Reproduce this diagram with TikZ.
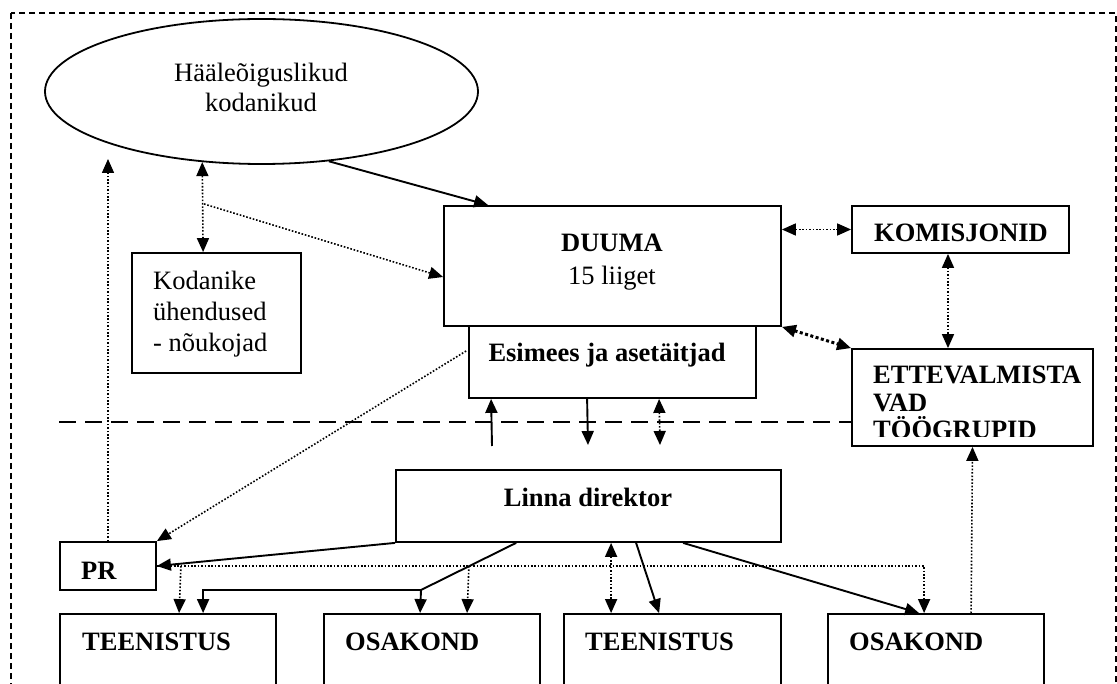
\documentclass[tikz,border=0pt]{standalone}
\usepackage{fontspec}
\setmainfont{Liberation Serif}
\usetikzlibrary{arrows.meta,calc,shapes.geometric}
\begin{document}
\begin{tikzpicture}[x=1pt,y=-1pt,
  bx/.style={draw,line width=1.8pt,inner sep=0pt,rectangle},
  txt/.style={inner sep=0pt,font=\fontsize{26.5}{32}\selectfont},
  btxt/.style={inner sep=0pt,font=\fontsize{26.5}{32}\selectfont\bfseries},
  tip/.style={-{Triangle[length=14pt,width=12pt]}},
  tiptwo/.style={{Triangle[length=14pt,width=12pt]}-{Triangle[length=14pt,width=12pt]}},
  solidc/.style={line width=1.9pt},
  dotc/.style={line width=1.6pt,dash pattern=on 1.6pt off 1.8pt},
  tdotc/.style={line width=3pt,dash pattern=on 3pt off 2.5pt},
  sepline/.style={line width=1.8pt,dash pattern=on 17pt off 9pt},
  frame/.style={line width=1.3pt,dash pattern=on 6pt off 4pt}]
\useasboundingbox (0,0) rectangle (1117,684);
\clip (0,0) rectangle (1117,684);
\fill[white] (0,0) rectangle (1117,684);

% outer frame
\draw[frame] (11,13) rectangle (1116,730);

% ellipse
\node[draw,ellipse,line width=1.8pt,minimum width=433,minimum height=145,inner sep=0pt] (ell) at (261.5,91.5) {};
\node[txt,align=center,anchor=north,font=\fontsize{26.5}{30}\selectfont] (ellt) at (261,63) {Hääleõiguslikud\\kodanikud};

% boxes
\node[bx,minimum width=169,minimum height=120] (kod) at (216.5,313) {};
\node[txt,align=left,anchor=north west,font=\fontsize{26.5}{31}\selectfont] (kodt) at (153,271) {Kodanike\\ühendused\\- nõukojad};

\node[bx,minimum width=337,minimum height=120] (duu) at (612.5,266) {};
\node[txt,align=center,anchor=north,font=\fontsize{26.5}{33}\selectfont] (duut) at (612,234) {\textbf{DUUMA}\\15 liiget};

\node[bx,minimum width=287,minimum height=72] (esi) at (612.5,362) {};
\node[btxt,anchor=base] (esit) at (607,362) {Esimees ja asetäitjad};

\node[bx,minimum width=217,minimum height=47] (kom) at (960.5,229.5) {};
\node[btxt,anchor=base] (komt) at (961,242) {KOMISJONID};

\node[bx,minimum width=241,minimum height=97] (ett) at (972.5,397.5) {};
\begin{scope}
\clip (853,350) rectangle (1092,437);
\node[btxt,align=left,anchor=north west,font=\fontsize{26.5}{26.5}\selectfont\bfseries] (ettt) at (873,366) {ETTEVALMISTA\\[1pt]VAD\\[1pt]TÖÖGRUPID};
\end{scope}

\node[bx,minimum width=385,minimum height=72] (lin) at (588.5,506) {};
\node[btxt,anchor=base] (lint) at (588,506) {Linna direktor};

\node[bx,minimum width=96,minimum height=48] (pr) at (108,566) {};
\node[btxt,anchor=base west] (prt) at (81,579) {PR};

\node[bx,minimum width=216,minimum height=100] (te1) at (168,664) {};
\node[btxt,anchor=base west] (te1t) at (82,650) {TEENISTUS};
\node[bx,minimum width=216,minimum height=100] (os1) at (432,664) {};
\node[btxt,anchor=base west] (os1t) at (345,650) {OSAKOND};
\node[bx,minimum width=217,minimum height=100] (te2) at (672.5,664) {};
\node[btxt,anchor=base west] (te2t) at (585,650) {TEENISTUS};
\node[bx,minimum width=216,minimum height=100] (os2) at (936,664) {};
\node[btxt,anchor=base west] (os2t) at (849,650) {OSAKOND};

% free-end coordinates
\coordinate (j1) at (204,204);
\coordinate (prup) at (108,159);
\coordinate (kn) at (421,590);
\coordinate (u1) at (492,446);
\coordinate (d1) at (588,445);
\coordinate (d2) at (660,445);
\coordinate (dl) at (59,422);

% connectors
\draw[solidc,tip] (ell.-46.3) -- ($(duu.north west)+(45,0)$);
\draw[dotc,tiptwo] (ell.230.6) -- ($(kod.north west)+(72,0)$);
\draw[dotc,tip] (j1) -- ($(duu.west)+(0,11)$);
\draw[dotc,tip] (pr.north) -- (prup);
\draw[dotc,tip] ($(esi.west)+(-2,-11)$) -- (pr.north east);
\draw[solidc,tip] (lin.south west) -- (pr.east);

\draw[dotc,tip] (pr.east) -| ($(os2.north west)+(97,0)$);
\draw[dotc,tip] ($(pr.east)+(24,0)$) -- ($(te1.north west)+(120,0)$);
\draw[dotc,tip] ($(pr.east)+(312,0)$) -- ($(os1.north west)+(144,0)$);

\draw[solidc,tip] ($(lin.south west)+(121,0)$) -- (kn) -- ($(os1.north west)+(97,0)$);
\draw[solidc,tip] (kn) -| ($(te1.north west)+(144,0)$);

\draw[dotc,tiptwo] ($(lin.south west)+(216,0)$) -- ($(te2.north west)+(48,0)$);
\draw[solidc,tip] ($(lin.south west)+(241,0)$) -- ($(te2.north west)+(96,0)$);
\draw[solidc,tip] ($(lin.south west)+(288,0)$) -- ($(os2.north west)+(92,0)$);
\draw[dotc,tip] ($(os2.north west)+(144,0)$) -- (ett.south);

\draw[solidc,tip] (u1) -- ($(esi.south west)+(23,0)$);
\draw[solidc,tip] ($(esi.south west)+(119,0)$) -- (d1);
\draw[dotc,tiptwo] ($(esi.south west)+(191,0)$) -- (d2);

\draw[dotc,tiptwo] (duu.east |- kom.west) -- (kom.west);
\draw[tdotc,tiptwo] (duu.south east) -- (ett.north west);
\draw[dotc,tiptwo] ($(kom.south)+(-12.5,0)$) -- ($(ett.north)+(-24.5,0)$);

\draw[sepline] (dl) -- (ett.west |- dl);
\end{tikzpicture}
\end{document}
